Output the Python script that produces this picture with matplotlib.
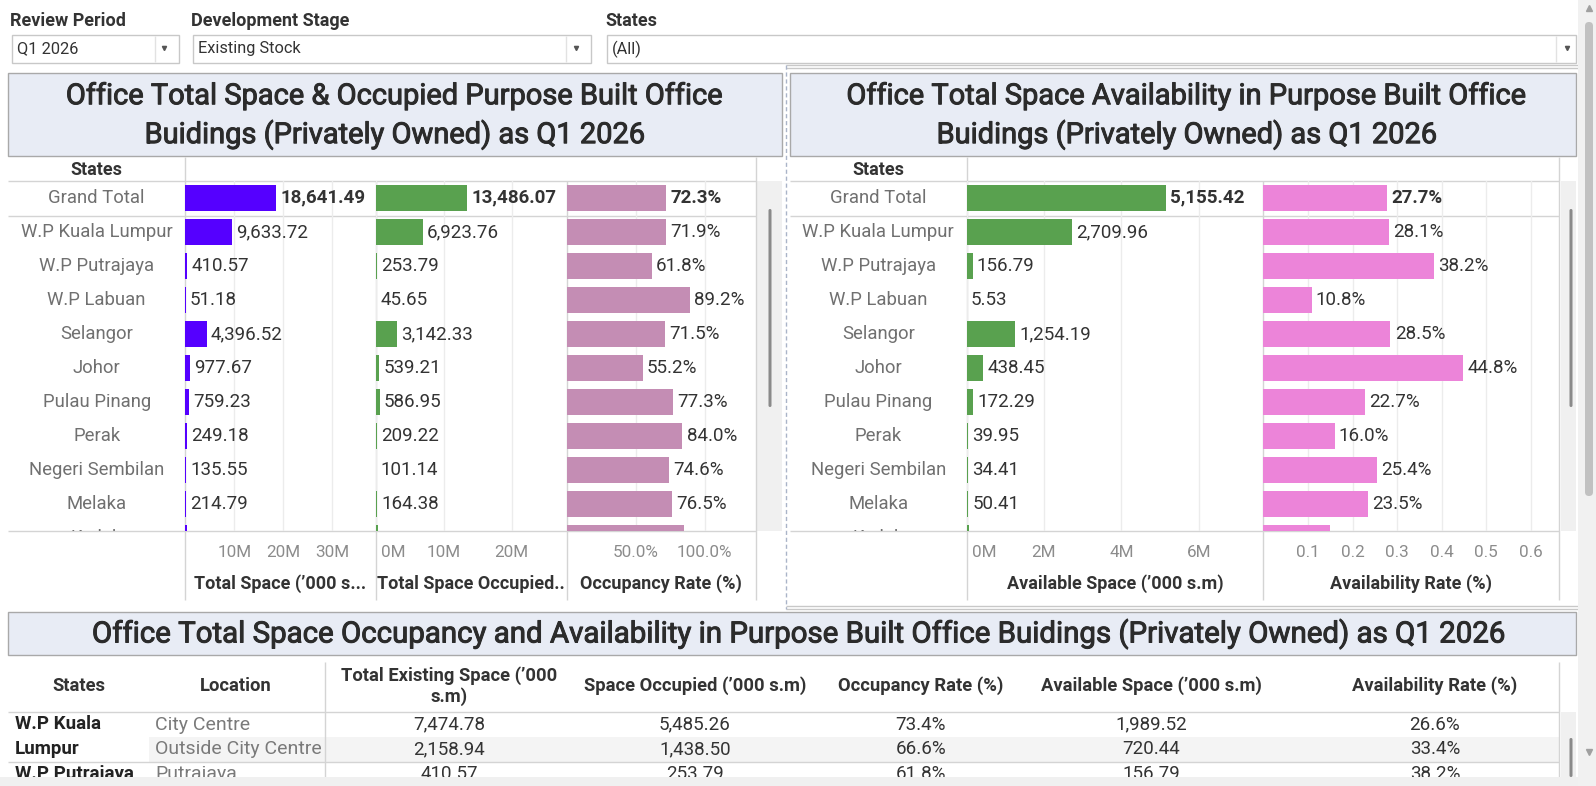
import matplotlib
matplotlib.use('Agg')
import matplotlib.pyplot as plt
import matplotlib.patheffects as pe
from matplotlib.patches import Rectangle, FancyBboxPatch
from matplotlib.transforms import blended_transform_factory

plt.rcParams['font.family'] = ['Roboto', 'DejaVu Sans']

# ---------------- data ----------------
states = ["Grand Total", "W.P Kuala Lumpur", "W.P Putrajaya", "W.P Labuan", "Selangor",
          "Johor", "Pulau Pinang", "Perak", "Negeri Sembilan", "Melaka", "Kedah"]
total_space = [18641.49, 9633.72, 410.57, 51.18, 4396.52, 977.67, 759.23, 249.18, 135.55, 214.79, 420.0]
occupied_space = [13486.07, 6923.76, 253.79, 45.65, 3142.33, 539.21, 586.95, 209.22, 101.14, 164.38, 357.0]
occupancy_rate = [72.3, 71.9, 61.8, 89.2, 71.5, 55.2, 77.3, 84.0, 74.6, 76.5, 85.0]
available_space = [5155.42, 2709.96, 156.79, 5.53, 1254.19, 438.45, 172.29, 39.95, 34.41, 50.41, 63.0]
availability_rate = [27.7, 28.1, 38.2, 10.8, 28.5, 44.8, 22.7, 16.0, 25.4, 23.5, 15.0]

ticks_total = [10000, 20000, 30000]
ticks_occupied = [0, 10000, 20000]
ticks_occ_rate = [50, 100]
ticks_available = [0, 2000, 4000, 6000]
ticks_avail_rate = [0.1, 0.2, 0.3, 0.4, 0.5, 0.6]

tbl_states = ["W.P Kuala\nLumpur", "W.P Putrajaya"]
tbl_state_rows = [0.5, 2]
tbl_location = ["City Centre", "Outside City Centre", "Putrajaya"]
tbl_total = [7474.78, 2158.94, 410.57]
tbl_occupied = [5485.26, 1438.50, 253.79]
tbl_occ_rate = [73.4, 66.6, 61.8]
tbl_available = [1989.52, 720.44, 156.79]
tbl_avail_rate = [26.6, 33.4, 38.2]
tbl_headers = ["States", "Location", "Total Existing Space (\u2019000\ns.m)", "Space Occupied (\u2019000 s.m)",
               "Occupancy Rate (%)", "Available Space (\u2019000 s.m)", "Availability Rate (%)"]

filter_labels = ["Review Period", "Development Stage", "States"]
filter_values = ["Q1 2026", "Existing Stock", "(All)"]

title_left = "Office Total Space & Occupied Purpose Built Office\nBuidings (Privately Owned) as Q1 2026"
title_right = "Office Total Space Availability in Purpose Built Office\nBuidings (Privately Owned) as Q1 2026"
title_bottom = "Office Total Space Occupancy and Availability in Purpose Built Office Buidings (Privately Owned) as Q1 2026"

# ---------------- layout helpers ----------------
W, H = 1596, 786
fig = plt.figure(figsize=(W / 100, H / 100), dpi=100, facecolor='white')

def axes_px(x0, y0, x1, y1):
    return fig.add_axes([x0 / W, 1 - y1 / H, (x1 - x0) / W, (y1 - y0) / H])

ov = axes_px(0, 0, W, H)
ov.set_xlim(0, W); ov.set_ylim(H, 0); ov.axis('off')

DARK = '#333333'
TITLE_C = '#2b2b2b'
LINE = '#d4d4d4'
TITLE_BG = '#e8ecf5'
TITLE_EC = '#a9a9a9'
semibold = [pe.withStroke(linewidth=0.7, foreground=TITLE_C)]

def rect(x0, y0, x1, y1, fc, ec='none', lw=1.0, z=1):
    ov.add_patch(Rectangle((x0, y0), x1 - x0, y1 - y0, fc=fc, ec=ec, lw=lw, zorder=z))

def hline(y, x0, x1, color=LINE, lw=1.0, z=2, ls='-'):
    ov.plot([x0, x1], [y, y], color=color, lw=lw, zorder=z, ls=ls, solid_capstyle='butt')

def vline(x, y0, y1, color=LINE, lw=1.0, z=2, ls='-'):
    ov.plot([x, x], [y0, y1], color=color, lw=lw, zorder=z, ls=ls, solid_capstyle='butt')

def txt(x, y, s, size, color=DARK, weight='normal', ha='left', va='center', **kw):
    ov.text(x, y, s, fontsize=size, color=color, fontweight=weight, ha=ha, va=va, zorder=5, **kw)

# ---------------- filters ----------------
filter_boxes = [(12, 179, 155, 164), (193, 591, 566, 576), (607, 1576, 1556, 1567)]
for lab, val, (x0, x1, sep, arr) in zip(filter_labels, filter_values, filter_boxes):
    txt(x0 - 2, 21, lab, 13, weight='bold')
    rect(x0, 35, x1, 63, fc='white', ec='#c8c8c8', lw=1)
    vline(sep, 36, 62, color='#e2e2e2')
    txt(x0 + 5, 49, val, 11.8)
    ov.plot(arr, 48, marker='v', ms=3, color='#555555', zorder=6)

# ---------------- panel frames ----------------
rect(8, 73, 782, 156, fc=TITLE_BG, ec=TITLE_EC, lw=1)
rect(790, 73, 1576, 156, fc=TITLE_BG, ec=TITLE_EC, lw=1)
txt(395, 116, title_left, 20.9, ha='center', linespacing=1.38, color=TITLE_C, path_effects=semibold)
txt(1187, 116, title_right, 20.9, ha='center', linespacing=1.38, color=TITLE_C, path_effects=semibold)
hline(65, 786, 1578, color='#c8c8c8')
hline(68, 786, 1578, color='#c8c8c8')
hline(606, 786, 1578, color='#c8c8c8')
hline(609, 786, 1578, color='#c8c8c8')
vline(786, 65, 609, color='#aab4c8', ls=(0, (3, 2)))

# chart grid frames
TOP, BOT = 181.2, 530.5
for (lx0, lx1, cols, right, hdr_x, track) in [
        (8, 756, [185.3, 375.7, 566.5], 756, 96.7, (757, 782, 770)),
        (790, 1559, [966.5, 1263.4], 1559, 878.5, (1561, 1576, 1571))]:
    txt(hdr_x, 170, "States", 13, weight='bold', ha='center')
    hline(TOP, lx0, right)
    hline(215.7, lx0, right)
    hline(BOT, lx0, right)
    vline(cols[0], 157, 600)
    for c in cols[1:]:
        vline(c, TOP, 600)
    vline(right, 157, 600)
    rect(track[0], TOP, track[1], BOT, fc='#f0f0f0')
    ov.add_patch(FancyBboxPatch((track[2] - 1.5, 209), 3, 198, boxstyle='round,pad=0,rounding_size=1.5',
                                fc='#8a8a8a', ec='none', zorder=3))

N_LO, N_HI = -0.49, 9.77

def label_col(x0, x1):
    ax = axes_px(x0, TOP, x1, BOT)
    ax.set_facecolor('none'); ax.axis('off')
    ax.set_xlim(0, 1); ax.set_ylim(N_HI, N_LO)
    for i, s in enumerate(states):
        ax.text(0.5, i, s, ha='center', va='center', fontsize=13.3, color='#707070', clip_on=True)

def bar_col(x0, x1, vals, color, xmax, ticks, ticklabels, title, fmt, zero_left=False):
    ax = axes_px(x0, TOP, x1, BOT)
    ax.set_facecolor('none')
    ax.barh(range(len(vals)), vals, height=0.76, color=color, zorder=2)
    ax.set_xlim(0, xmax); ax.set_ylim(N_HI, N_LO)
    for sp in ax.spines.values():
        sp.set_visible(False)
    ax.set_yticks([])
    ax.set_xticks(ticks)
    ax.tick_params(axis='x', length=0, labelbottom=False)
    ax.grid(axis='x', color='#ececec', lw=1)
    ax.set_axisbelow(True)
    for i, v in enumerate(vals):
        ax.annotate(fmt(v), xy=(v, i), xytext=(3, 0), textcoords='offset points', ha='left', va='center',
                    fontsize=13.5, color=DARK, fontweight='bold' if i == 0 else 'normal',
                    annotation_clip=True)
    tb = blended_transform_factory(ax.transData, ax.transAxes)
    for t, tl in zip(ticks, ticklabels):
        if t == 0 and zero_left:
            ax.annotate(tl, xy=(t, 0), xycoords=tb, xytext=(4, -15.8), textcoords='offset points',
                        ha='left', va='center', fontsize=12.3, color='#8c8c8c')
        else:
            ax.annotate(tl, xy=(t, 0), xycoords=tb, xytext=(0, -15.8), textcoords='offset points',
                        ha='center', va='center', fontsize=12.3, color='#8c8c8c')
    ax.set_xlabel(title, fontsize=13, fontweight='bold', color=DARK, va='center')
    ax.xaxis.set_label_coords(0.5, -(584 - BOT) / (BOT - TOP))
    return ax

fmt_num = lambda v: f"{v:,.2f}"
fmt_pct = lambda v: f"{v:.1f}%"

label_col(8, 185.3)
bar_col(185.3, 375.7, total_space, '#5500ff', 38940, ticks_total,
        [f"{t // 1000}M" for t in ticks_total], "Total Space (\u2019000 s...", fmt_num)
bar_col(375.7, 566.5, occupied_space, '#59a14f', 28060, ticks_occupied,
        [f"{t // 1000}M" for t in ticks_occupied], "Total Space Occupied..", fmt_num, zero_left=True)
bar_col(566.5, 756, occupancy_rate, '#c48db4', 137.3, ticks_occ_rate,
        [f"{t:.1f}%" for t in ticks_occ_rate], "Occupancy Rate (%)", fmt_pct)

label_col(790, 966.5)
bar_col(966.5, 1263.4, available_space, '#59a14f', 7662, ticks_available,
        [f"{t // 1000}M" for t in ticks_available], "Available Space (\u2019000 s.m)", fmt_num, zero_left=True)
bar_col(1263.4, 1559, [v / 100 for v in availability_rate], '#ec84d9', 0.663, ticks_avail_rate,
        [f"{t:.1f}" for t in ticks_avail_rate], "Availability Rate (%)", lambda v: f"{v * 100:.1f}%")

# ---------------- bottom table ----------------
rect(8, 612, 1576, 655, fc=TITLE_BG, ec=TITLE_EC, lw=1)
txt(797, 634, title_bottom, 21.2, ha='center', color=TITLE_C, path_effects=semibold)
col_x = [79, 236, 449, 695, 921, 1151, 1435]
for x, h in zip(col_x, tbl_headers):
    txt(x, 686, h, 13.2, weight='bold', ha='center', linespacing=1.2)
vline(324.7, 662, 777)
vline(1559, 662, 777)
hline(711.5, 8, 1559)
rect(149, 736.8, 1559, 761.5, fc='#f4f4f4', z=1)
hline(761.5, 8, 1559)
rect(1561, 712, 1576, 777, fc='#f0f0f0')
ov.add_patch(FancyBboxPatch((1569.5, 738), 3, 39, boxstyle='round,pad=0,rounding_size=1.5',
                            fc='#8a8a8a', ec='none', zorder=3))

tax = axes_px(8, 712, 1559, 777)
tax.set_facecolor('none'); tax.axis('off')
tax.set_xlim(8, 1559); tax.set_ylim(2.14, -0.51)
for s, r in zip(tbl_states, tbl_state_rows):
    tax.text(15, r, s, ha='left', va='center', fontsize=13.5, fontweight='bold', color='#222222',
             clip_on=True, linespacing=1.5)
for i in range(len(tbl_location)):
    tax.text(155, i, tbl_location[i], ha='left', va='center', fontsize=14, color='#7a7a7a', clip_on=True)
    row_vals = [fmt_num(tbl_total[i]), fmt_num(tbl_occupied[i]), fmt_pct(tbl_occ_rate[i]),
                fmt_num(tbl_available[i]), fmt_pct(tbl_avail_rate[i])]
    for x, s in zip(col_x[2:], row_vals):
        tax.text(x, i, s, ha='center', va='center', fontsize=13.5, color=DARK, clip_on=True)

# bottom band & page scrollbar
rect(0, 777, 1578, 786, fc='#f0f0f0', z=4)
rect(1578, 0, 1596, 786, fc='#f1f1f1', z=4)
ov.add_patch(FancyBboxPatch((1585, 22), 8, 474, boxstyle='round,pad=0,rounding_size=4',
                            fc='#c1c1c1', ec='none', zorder=5))
ov.plot(1589, 8, marker='^', ms=5, color='#a0a0a0', zorder=6)
ov.plot(1589, 752, marker='v', ms=5, color='#a0a0a0', zorder=6)

fig.savefig('out.png', dpi=100, facecolor='white')
